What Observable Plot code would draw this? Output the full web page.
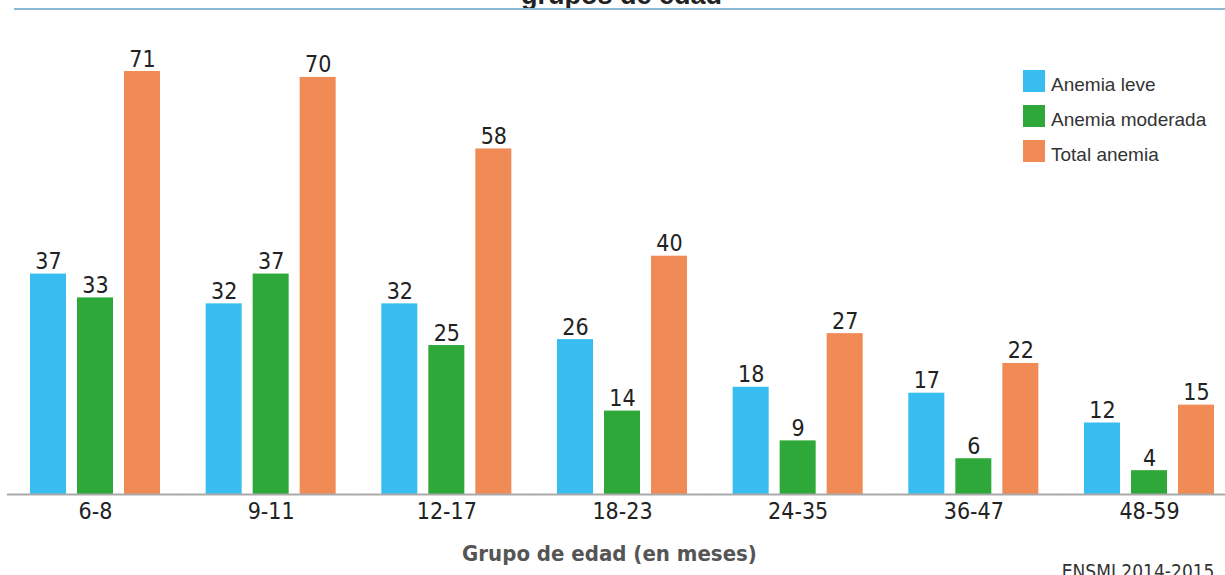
<!DOCTYPE html>
<html>
<head>
<meta charset="utf-8">
<script src="https://cdn.jsdelivr.net/npm/d3@7"></script>
<script src="https://cdn.jsdelivr.net/npm/@observablehq/plot@0.6"></script>
<style>
  html, body { margin: 0; padding: 0; background: #fff; }
  #wrap { position: relative; width: 1225px; height: 575px; overflow: hidden; }
  #topline { position: absolute; left: 14px; top: 8px; width: 1211px; height: 2px; background: #8bb7d4; }
  #legend { position: absolute; left: 1023px; top: 70px; font-family: "Liberation Sans", Arial, sans-serif; font-size: 19px; color: #333; }
  .row { display: flex; height: 22px; margin-bottom: 13px; }
  .sw { width: 22px; height: 22px; }
  .lb { margin-left: 6px; line-height: 22px; position: relative; top: 4px; white-space: nowrap; }
</style>
</head>
<body>
<div id="wrap"></div>
<script>
const groups = ["6-8", "9-11", "12-17", "18-23", "24-35", "36-47", "48-59"];
const seriesNames = ["Anemia leve", "Anemia moderada", "Total anemia"];
const leve = [37, 32, 32, 26, 18, 17, 12];
const moderada = [33, 37, 25, 14, 9, 6, 4];
const total = [71, 70, 58, 40, 27, 22, 15];
const colors = ["#38bdf0", "#2ea838", "#f08b55"];
const title = "grupos de edad";
const xLabel = "Grupo de edad (en meses)";
const source = "ENSMI 2014-2015";

const seriesValues = [leve, moderada, total];
const data = [];
groups.forEach((g, i) => {
  seriesNames.forEach((s, j) => data.push({group: g, series: s, value: seriesValues[j][i]}));
});

const narrow = "'Liberation Sans Narrow', 'Arial Narrow', 'DejaVu Sans Condensed', sans-serif";

const chart = Plot.plot({
  width: 1225,
  height: 575,
  marginTop: 71,
  marginBottom: 81,
  marginLeft: 19,
  marginRight: 0,
  style: {background: "transparent", overflow: "visible"},
  fx: {domain: groups, paddingInner: 0.1347, paddingOuter: 0, round: false, label: null},
  x: {domain: seriesNames, padding: 0.234, round: false, axis: null},
  y: {domain: [0, 71], axis: null},
  color: {domain: seriesNames, range: colors},
  marks: [
    Plot.barY(data, {fx: "group", x: "series", y: "value", fill: "series"}),
    Plot.ruleY([0], {stroke: "#aaaaaa", strokeWidth: 2, insetLeft: -12, insetRight: -12}),
    Plot.text(data, {fx: "group", x: "series", y: "value", text: d => String(d.value),
      dy: -5, lineAnchor: "bottom", fontSize: 23, fontFamily: narrow, fill: "#222"}),
    Plot.axisFx({anchor: "bottom", tickSize: 0, tickPadding: 8, fontSize: 23, fontFamily: narrow, color: "#222", label: null}),
    Plot.text([xLabel], {facet: "super", frameAnchor: "bottom", dx: -13, dy: 66, lineAnchor: "bottom",
      fontSize: 22, fontWeight: "bold", fontFamily: narrow, fill: "#555"}),
    Plot.text([source], {facet: "super", frameAnchor: "bottom-right", dx: -11, dy: 83, lineAnchor: "bottom",
      textAnchor: "end", fontSize: 19, fontFamily: narrow, fill: "#333"}),
    Plot.text([title], {facet: "super", frameAnchor: "top", dx: -1, dy: -68, lineAnchor: "bottom",
      fontSize: 27, fontWeight: "bold", fontFamily: "'Liberation Sans', Arial, sans-serif", fill: "#222"})
  ]
});

const wrap = document.getElementById("wrap");
wrap.appendChild(chart);

const line = document.createElement("div");
line.id = "topline";
wrap.appendChild(line);

const legend = document.createElement("div");
legend.id = "legend";
seriesNames.forEach((s, j) => {
  const row = document.createElement("div");
  row.className = "row";
  const sw = document.createElement("div");
  sw.className = "sw";
  sw.style.background = colors[j];
  const lb = document.createElement("div");
  lb.className = "lb";
  lb.textContent = s;
  row.appendChild(sw);
  row.appendChild(lb);
  legend.appendChild(row);
});
wrap.appendChild(legend);
</script>
</body>
</html>
